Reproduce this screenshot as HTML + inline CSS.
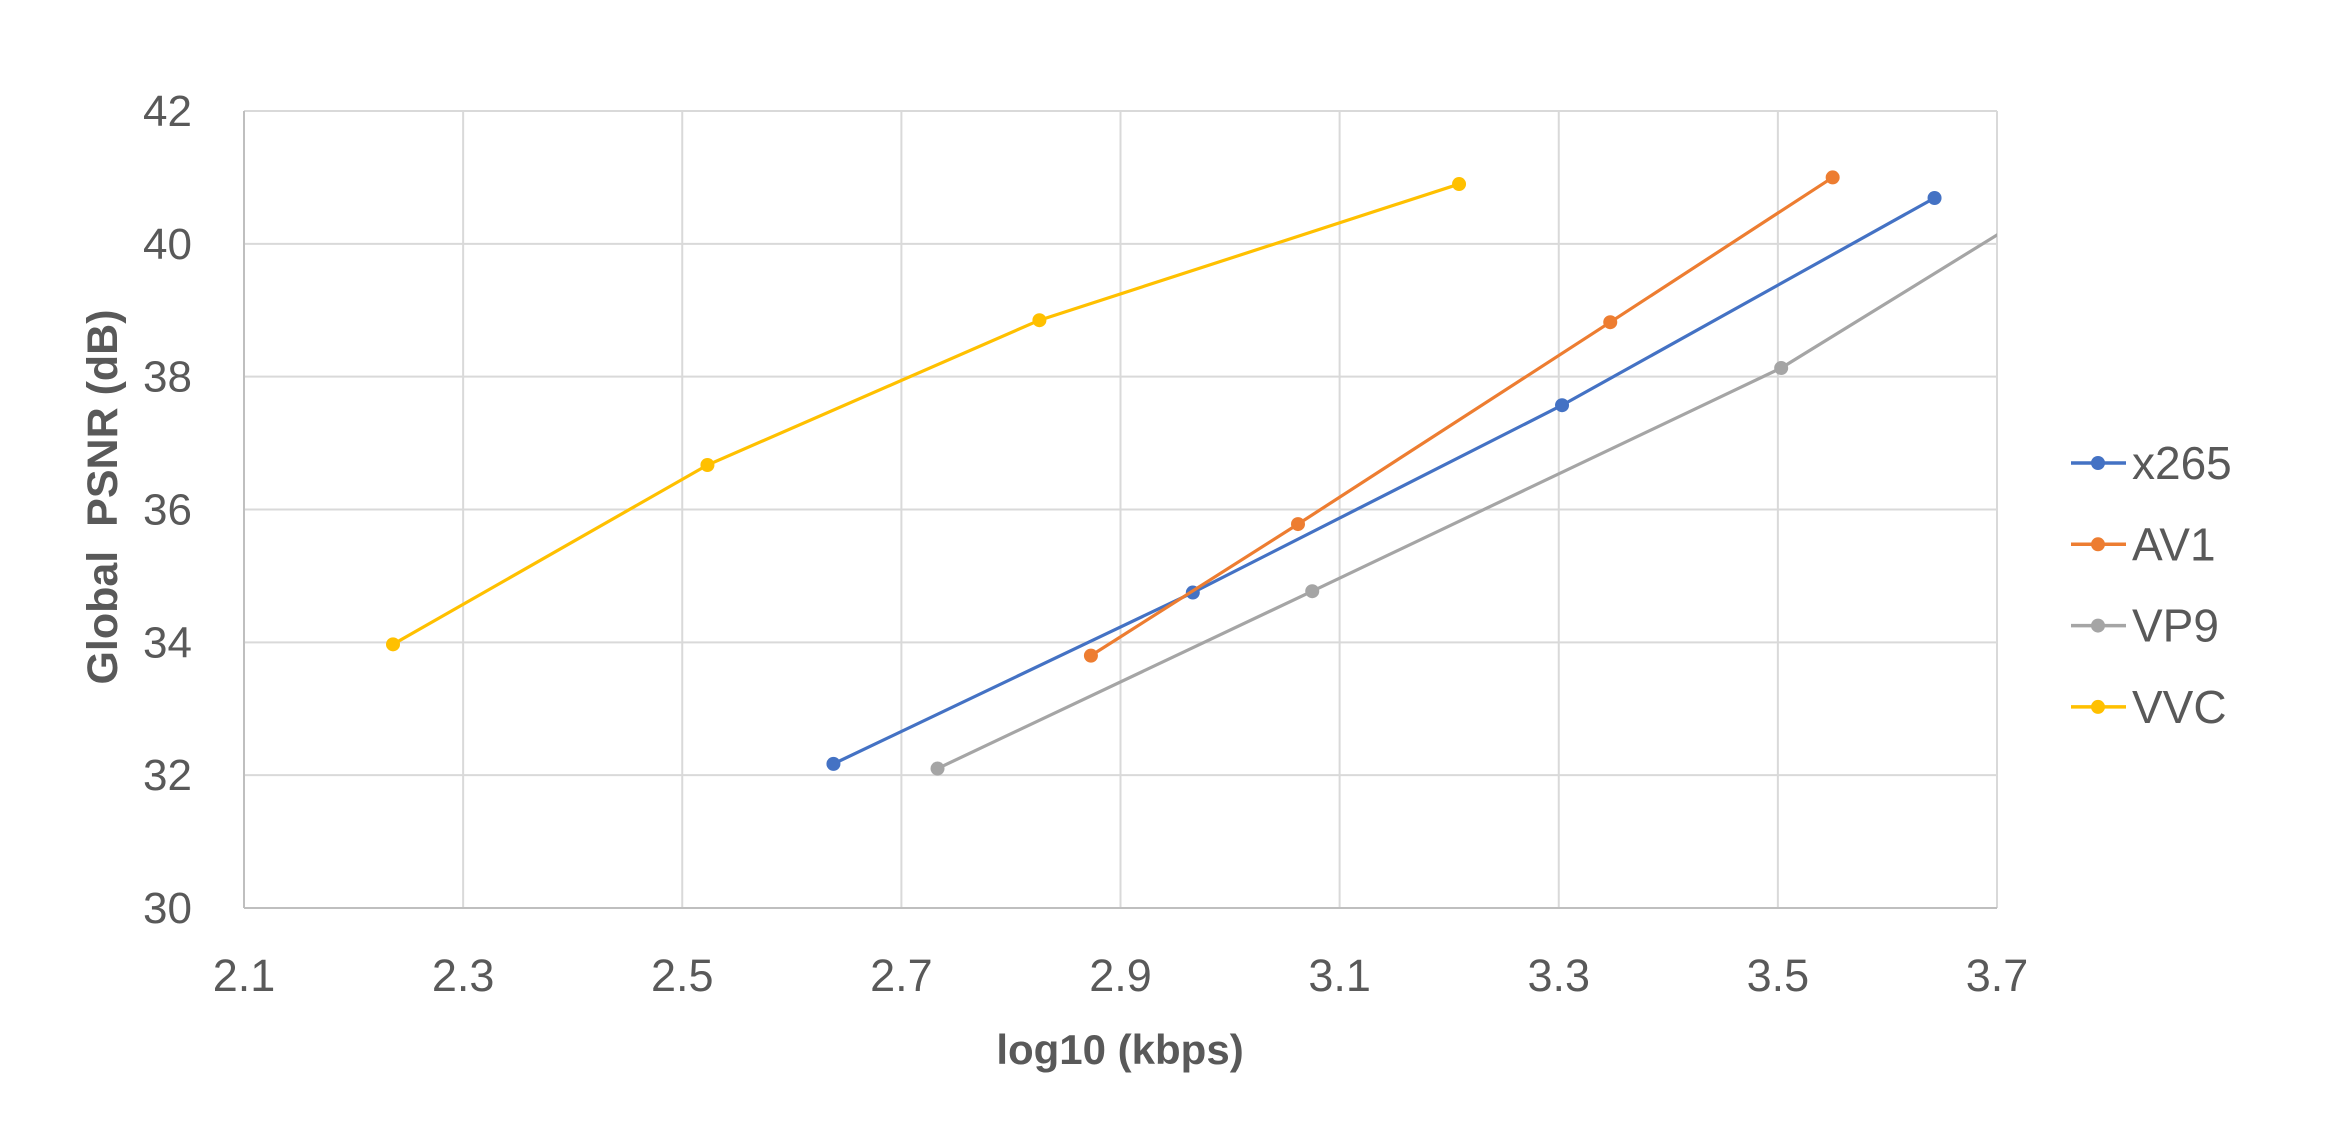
<!DOCTYPE html>
<html><head><meta charset="utf-8"><style>
html,body{margin:0;padding:0;background:#fff;}
svg{display:block;font-family:"Liberation Sans",sans-serif;}
</style></head><body>
<svg id="chart" width="2346" height="1147" viewBox="0 0 2346 1147">
<g id="grid"></g>
<g id="axes"></g>
<defs><clipPath id="plotclip"><rect x="244" y="100" width="1753" height="820"/></clipPath></defs>
<g id="series" clip-path="url(#plotclip)"></g>
<text x="1120" y="1064" text-anchor="middle" font-size="42" font-weight="bold" fill="#595959">log10 (kbps)</text>
<text transform="translate(117,497) rotate(-90)" text-anchor="middle" font-size="43" font-weight="bold" fill="#595959" xml:space="preserve">Global  PSNR (dB)</text>
<g id="legend"></g>
</svg>
<script>
const seriesNames = ["x265","AV1","VP9","VVC"];
const seriesColors = ["#4472C4","#ED7D31","#A5A5A5","#FFC000"];
const x265X = [2.638,2.966,3.303,3.643];
const x265Y = [32.17,34.75,37.57,40.69];
const av1X = [2.873,3.062,3.347,3.55];
const av1Y = [33.8,35.78,38.82,41.0];
const vp9X = [2.733,3.075,3.503,3.8];
const vp9Y = [32.1,34.77,38.13,41.15];
const vvcX = [2.236,2.523,2.826,3.209];
const vvcY = [33.97,36.67,38.85,40.9];
const xTicks = [2.1,2.3,2.5,2.7,2.9,3.1,3.3,3.5,3.7];
const yTicks = [30,32,34,36,38,40,42];

const NS="http://www.w3.org/2000/svg";
const L=244,R=1997,T=111,B=908;
const sx=v=>L+(v-2.1)/(3.7-2.1)*(R-L);
const sy=v=>B-(v-30)/(42-30)*(B-T);
function mk(tag,attrs,parent){const e=document.createElementNS(NS,tag);for(const k in attrs)e.setAttribute(k,attrs[k]);parent.appendChild(e);return e;}
const grid=document.getElementById('grid'),axes=document.getElementById('axes');
xTicks.forEach(t=>{
  const l=mk('line',{x1:sx(t),x2:sx(t),y1:T,y2:B,stroke:'#d9d9d9','stroke-width':2},grid);
  
  
  const tx=mk('text',{x:sx(t),y:991,'text-anchor':'middle','font-size':45,fill:'#595959'},axes);
  tx.textContent=t.toFixed(1);
  
  
});
yTicks.forEach(t=>{
  const l=mk('line',{x1:L,x2:R,y1:sy(t),y2:sy(t),stroke:'#d9d9d9','stroke-width':2},grid);
  
  
  const tx=mk('text',{x:192,y:sy(t)+15,'text-anchor':'end','font-size':44,fill:'#595959'},axes);
  tx.textContent=t;
  
  
});
const ax=mk('line',{x1:L,x2:R,y1:B,y2:B,stroke:'#bfbfbf','stroke-width':2},axes);


const ay=mk('line',{x1:L,x2:L,y1:T,y2:B,stroke:'#bfbfbf','stroke-width':2},axes);



const data=[[x265X,x265Y],[av1X,av1Y],[vp9X,vp9Y],[vvcX,vvcY]];
const sg=document.getElementById('series'),lg=document.getElementById('legend');
data.forEach((d,i)=>{
  const pts=d[0].map((x,j)=>sx(x)+','+sy(d[1][j])).join(' ');
  const pl=mk('polyline',{points:pts,fill:'none',stroke:seriesColors[i],'stroke-width':3.2},sg);
  
  
  d[0].forEach((x,j)=>{
    const c=mk('circle',{cx:sx(x),cy:sy(d[1][j]),r:7,fill:seriesColors[i]},sg);
    
    
  });
  const ly=463+i*81.3;
  const ll=mk('line',{x1:2071,x2:2126,y1:ly,y2:ly,stroke:seriesColors[i],'stroke-width':3.5},lg);
  
  
  const lc=mk('circle',{cx:2098,cy:ly,r:7,fill:seriesColors[i]},lg);
  
  
  const lt=mk('text',{x:2132,y:ly+16,'font-size':46,fill:'#595959'},lg);
  lt.textContent=seriesNames[i];
  
  
});
</script>
</body></html>
